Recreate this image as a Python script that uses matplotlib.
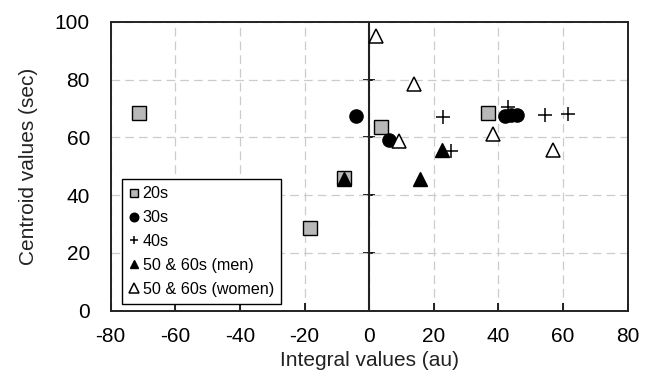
import matplotlib.pyplot as plt

plt.rcParams['font.family'] = ['Liberation Sans', 'DejaVu Sans']
plt.rcParams['axes.unicode_minus'] = False

# values
x_20s = [-71.2, -18.3, -7.8, 3.6, 36.7]
y_20s = [68.3, 28.7, 45.8, 63.7, 68.5]

x_30s = [-4.2, 6.2, 42.0, 44.0, 45.6]
y_30s = [67.4, 59.0, 67.5, 67.6, 67.7]

x_40s = [22.7, 25.2, 43.1, 54.4, 61.6]
y_40s = [66.9, 55.4, 70.4, 67.6, 68.1]

x_men = [-7.8, 15.7, 22.6]
y_men = [45.6, 45.6, 55.6]

x_women = [2.0, 13.8, 9.2, 38.2, 56.8]
y_women = [95.0, 78.4, 58.7, 61.0, 55.6]

fig = plt.figure(figsize=(6.56, 3.81), dpi=100)
ax = fig.add_axes([0.1688, 0.1845, 0.7881, 0.7585])

ms = 9.5
ax.plot(x_20s, y_20s, 's', ms=ms, mfc='#b8b8b8', mec='black', mew=1.0, ls='none', label='20s')
ax.plot(x_30s, y_30s, 'o', ms=ms, mfc='black', mec='black', ls='none', label='30s')
ax.plot(x_40s, y_40s, '+', ms=ms, mec='black', mew=1.1, ls='none', label='40s')
ax.plot(x_men, y_men, '^', ms=ms, mfc='black', mec='black', ls='none', label='50 & 60s (men)')
ax.plot(x_women, y_women, '^', ms=ms + 1, mfc='white', mec='black', mew=1.1, ls='none',
        label='50 & 60s (women)')

ax.set_xlim(-80, 80)
ax.set_ylim(0, 100)
ax.set_xticks(range(-80, 81, 20))
ax.set_yticks(range(0, 101, 20))
ax.grid(True, color='#cccccc', linestyle=(0, (7, 4)), linewidth=0.9)
ax.set_axisbelow(True)

# zero line with crossing ticks
ax.axvline(0, color='#222222', lw=1.5, zorder=1.5)
sec = ax.secondary_yaxis(0.5)
sec.set_yticks([20, 40, 60, 80])
sec.tick_params(direction='inout', length=9, width=1.3, labelleft=False, labelright=False,
                left=True, right=False)
sec.spines['left'].set_visible(False)
sec.spines['right'].set_visible(False)

for s in ax.spines.values():
    s.set_linewidth(1.4)
    s.set_color('#222222')

ax.tick_params(axis='x', direction='in', length=6, width=1.2, pad=12, labelsize=15)
ax.tick_params(axis='y', direction='in', length=0, pad=15, labelsize=15)

ax.set_xlabel('Integral values (au)', fontsize=15, labelpad=3, color='#222222')
ax.set_ylabel('Centroid values (sec)', fontsize=15, labelpad=12, color='#222222')

leg = ax.legend(loc='lower left', bbox_to_anchor=(0.021, 0.023), fontsize=11.6,
                frameon=True, fancybox=False, edgecolor='black', framealpha=1,
                markerscale=0.65, handlelength=0.6, handletextpad=0.25,
                labelspacing=0.55, borderpad=0.45, borderaxespad=0)
leg.get_frame().set_linewidth(1.0)

fig.savefig('out.png', dpi=100)
